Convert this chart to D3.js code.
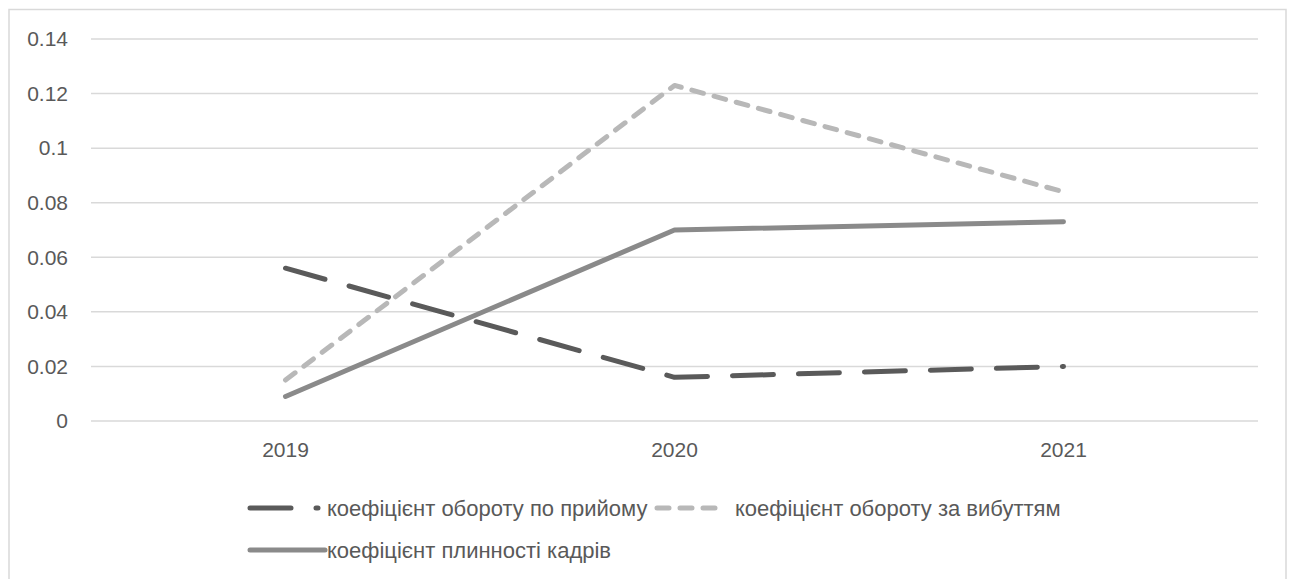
<!DOCTYPE html>
<html>
<head>
<meta charset="utf-8">
<script src="https://cdn.jsdelivr.net/npm/d3@7"></script>
<style>
  html, body { margin: 0; padding: 0; background: #fff; }
  svg { display: block; }
  text { font-family: "Liberation Sans", Arial, sans-serif; fill: #595959; }
</style>
</head>
<body>
<svg id="chart" width="1290" height="579"></svg>
<script>
// Years on the category axis
const years = ["2019", "2020", "2021"];
// Coefficient values per year
const hiringTurnover = [0.056, 0.016, 0.020];
const leavingTurnover = [0.015, 0.123, 0.084];
const staffTurnover = [0.009, 0.070, 0.073];
// Series names
const seriesNames = [
  "коефіцієнт обороту по прийому",
  "коефіцієнт обороту за вибуттям",
  "коефіцієнт плинності кадрів"
];
// Value axis ticks
const yTicks = [0, 0.02, 0.04, 0.06, 0.08, 0.1, 0.12, 0.14];

const series = [
  { name: seriesNames[0], values: hiringTurnover, color: "#5a5a5a", dash: "41 25" },
  { name: seriesNames[1], values: leavingTurnover, color: "#b8b8b8", dash: "12 11" },
  { name: seriesNames[2], values: staffTurnover, color: "#8a8a8a", dash: null }
];

const fontSize = 21;
const legendFontSize = 22;
const svg = d3.select("#chart");

// chart frame
svg.append("rect")
  .attr("x", 9).attr("y", 9.5)
  .attr("width", 1277).attr("height", 600)
  .attr("fill", "none").attr("stroke", "#d9d9d9").attr("stroke-width", 1.5);

const plot = { left: 91, right: 1258, top: 39, bottom: 421 };

const x = d3.scaleBand().domain(years).range([plot.left, plot.right]);
const y = d3.scaleLinear().domain([0, 0.14]).range([plot.bottom, plot.top]);

// horizontal gridlines
svg.append("g").selectAll("line").data(yTicks).join("line")
  .attr("x1", plot.left).attr("x2", plot.right)
  .attr("y1", d => y(d)).attr("y2", d => y(d))
  .attr("stroke", "#d9d9d9").attr("stroke-width", 1.5);

// value axis labels
const yAxis = d3.axisLeft(y).tickValues(yTicks).tickSize(0).tickPadding(0)
  .tickFormat(d => String(+d.toFixed(2)));
const gy = svg.append("g").attr("transform", `translate(${plot.left - 23},0)`).call(yAxis);
gy.select(".domain").remove();
gy.selectAll("text").attr("font-size", fontSize).attr("fill", "#595959")
  .style("font-family", "'Liberation Sans', Arial, sans-serif");

// category axis labels
const xAxis = d3.axisBottom(x).tickSize(0).tickPadding(0);
const gx = svg.append("g").attr("transform", `translate(0,${plot.bottom + 21})`).call(xAxis);
gx.select(".domain").remove();
gx.selectAll("text").attr("font-size", fontSize).attr("fill", "#595959")
  .style("font-family", "'Liberation Sans', Arial, sans-serif");

// series lines
const line = d3.line()
  .x((d, i) => x(years[i]) + x.bandwidth() / 2)
  .y(d => y(d));

svg.append("g").selectAll("path").data(series).join("path")
  .attr("d", d => line(d.values))
  .attr("fill", "none")
  .attr("stroke", d => d.color)
  .attr("stroke-width", 5)
  .attr("stroke-linecap", "round")
  .attr("stroke-linejoin", "round")
  .attr("stroke-dasharray", d => d.dash);

// legend
const legendLayout = [
  { x1: 250, x2: 318, tx: 327, y: 508 },
  { x1: 657, x2: 720, tx: 735, y: 508 },
  { x1: 250, x2: 325, tx: 327, y: 550 }
];
const lg = svg.append("g").selectAll("g").data(series).join("g");
lg.append("line")
  .attr("x1", (d, i) => legendLayout[i].x1)
  .attr("x2", (d, i) => legendLayout[i].x2)
  .attr("y1", (d, i) => legendLayout[i].y)
  .attr("y2", (d, i) => legendLayout[i].y)
  .attr("stroke", d => d.color)
  .attr("stroke-width", 5)
  .attr("stroke-linecap", "round")
  .attr("stroke-dasharray", d => d.dash);
lg.append("text")
  .attr("x", (d, i) => legendLayout[i].tx)
  .attr("y", (d, i) => legendLayout[i].y)
  .attr("dy", "0.35em")
  .attr("font-size", legendFontSize)
  .text(d => d.name);
</script>
</body>
</html>
